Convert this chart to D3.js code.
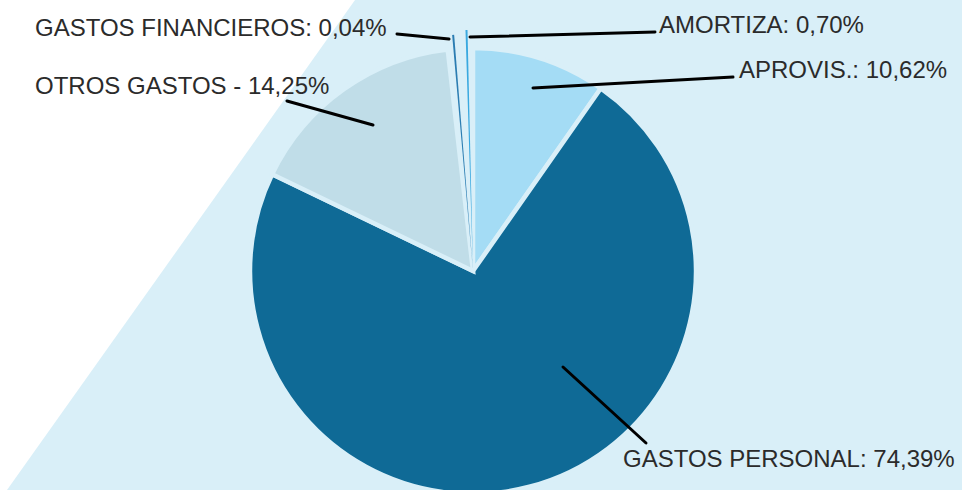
<!DOCTYPE html>
<html lang="es">
<head>
    <meta charset="UTF-8">
    <title>Distribución de gastos</title>
    <script src="https://d3js.org/d3.v7.min.js"></script>
    <style>
        body { margin: 0; background: #fff; }
        .label {
            font-family: "Liberation Sans", Arial, Helvetica, sans-serif;
            font-size: 24px;
            fill: #2b2b2b;
        }
        .leader {
            stroke: #000;
            stroke-width: 3px;
            stroke-linecap: round;
            fill: none;
        }
    </style>
</head>
<body>
    <svg id="chart"></svg>

    <script>
        // slices, clockwise from 12 o'clock
        const categories = ["APROVIS.", "GASTOS PERSONAL", "OTROS GASTOS", "GASTOS FINANCIEROS", "AMORTIZA"];
        // share of the circle as drawn in the picture (%)
        const sliceShare = [9.72, 72.43, 16.04, 0.95, 0.86];
        // label texts as printed
        const labelTexts = ["APROVIS.: 10,62%", "GASTOS PERSONAL: 74,39%", "OTROS GASTOS - 14,25%", "GASTOS FINANCIEROS: 0,04%", "AMORTIZA: 0,70%"];

        const colors = ["#a4dcf5", "#0f6a96", "#c0dde8", "#2b7db2", "#3aa9e0"];

        const width = 962, height = 490;
        const bg = "#d9eff8";
        const cx = 473, cy = 271, radius = 223;

        // label placement: leader line (inner -> outer) and text origin
        const labelLayout = [
            { line: [[533, 88], [733, 77]], text: [739, 78] },
            { line: [[563, 367], [646, 443]], text: [623, 467] },
            { line: [[373, 125], [287, 101]], text: [35, 94] },
            { line: [[449, 39], [397, 34]], text: [35, 36] },
            { line: [[470, 37], [655, 32]], text: [659, 33] }
        ];
        // tiny slices are drawn as thin needles reaching past the rim
        const needleRadius = [0, 0, 0, 237, 241];

        const data = categories.map((c, i) => ({ name: c, share: sliceShare[i], i: i }));

        const svg = d3.select("#chart")
            .attr("width", width)
            .attr("height", height);

        // light blue backdrop with slanted left edge
        svg.append("path")
            .attr("d", d3.line()([[355, 0], [width, 0], [width, height], [7, height]]))
            .attr("fill", bg);

        const g = svg.append("g")
            .attr("transform", "translate(" + cx + "," + cy + ")");

        const pie = d3.pie()
            .sort(null)
            .value(d => d.share)
            .startAngle(0)
            .endAngle(2 * Math.PI);

        const arc = d3.arc().innerRadius(0).outerRadius(radius);
        const arcs = pie(data);

        // main slices
        g.selectAll("path.slice")
            .data(arcs.filter(d => d.data.share >= 5))
            .enter().append("path")
            .attr("class", "slice")
            .attr("d", arc)
            .attr("fill", d => colors[d.data.i])
            .attr("stroke", bg)
            .attr("stroke-width", 4.5)
            .attr("stroke-linejoin", "miter");

        // needles for the tiny slices
        const half = 0.0042;
        g.selectAll("path.needle")
            .data(arcs.filter(d => d.data.share < 5))
            .enter().append("path")
            .attr("class", "needle")
            .attr("d", d => {
                const mid = (d.startAngle + d.endAngle) / 2;
                return d3.arc()({
                    innerRadius: 0,
                    outerRadius: needleRadius[d.data.i],
                    startAngle: mid - half,
                    endAngle: mid + half
                });
            })
            .attr("fill", d => colors[d.data.i]);

        // leader lines and labels
        labelLayout.forEach((l, i) => {
            svg.append("path")
                .attr("class", "leader")
                .attr("d", d3.line()(l.line));
            svg.append("text")
                .attr("class", "label")
                .attr("x", l.text[0])
                .attr("y", l.text[1])
                .text(labelTexts[i]);
        });
    </script>
</body>
</html>
